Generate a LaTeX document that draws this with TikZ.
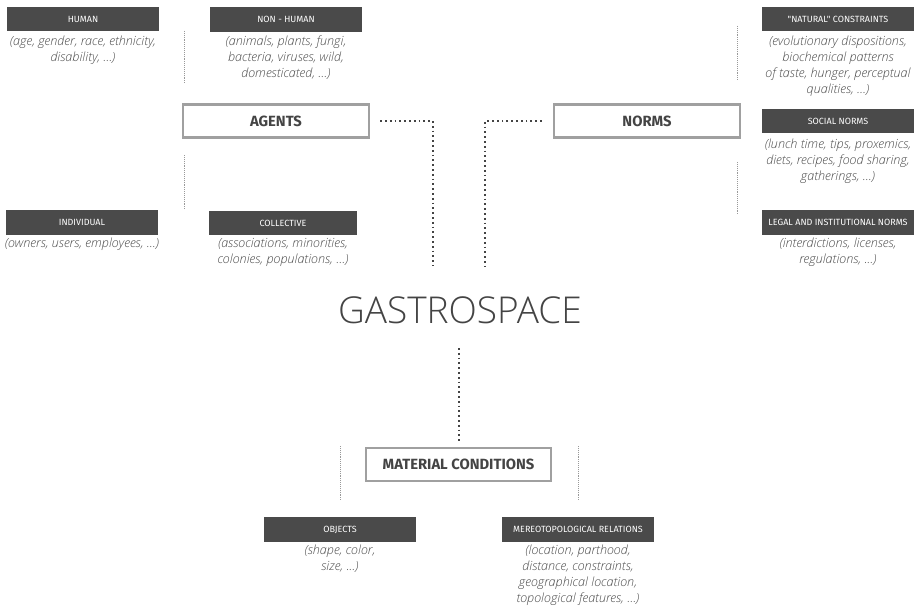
\documentclass[tikz,border=0pt]{standalone}
\usepackage{fontspec}
\setmainfont{Open Sans}
\newfontfamily\descfont{Open Sans Light}
\newfontfamily\labfont{Fira Sans}
\definecolor{darkbox}{HTML}{4A4A4A}
\definecolor{boxline}{HTML}{A0A0A0}
\definecolor{txt}{HTML}{444444}
\definecolor{desctxt}{HTML}{4A4A4A}
\begin{document}
\begin{tikzpicture}[x=1pt,y=-1pt,
  lab/.style={fill=darkbox, text=white, minimum width=152pt, minimum height=24.5pt, inner sep=0pt, font=\labfont\fontsize{9}{10}\selectfont},
  desc/.style={anchor=north, align=center, inner sep=0pt, text=desctxt, font=\descfont\itshape\fontsize{12.6}{16}\selectfont},
  main/.style={draw=boxline, line width=2.5pt, fill=white, minimum width=186pt, minimum height=33pt, inner sep=0pt, text=txt, font=\labfont\fontsize{14.8}{16}\selectfont\bfseries},
  thindot/.style={draw=gray!80, line width=0.8pt, dash pattern=on 0.8pt off 1.1pt},
  conn/.style={draw=txt, line width=1.8pt, dash pattern=on 1.8pt off 3pt}
]
\useasboundingbox (0,0) rectangle (916,610);
% left
\node[lab] (human) at (83,19) {HUMAN};
\node[desc] (humand) at (83,36) {(age, gender, race, ethnicity,\\disability, ...)};
\node[lab] (nonhuman) at (286,19.5) {NON - HUMAN};
\node[desc] (nonhumand) at (286,36) {(animals, plants, fungi,\\bacteria, viruses, wild,\\domesticated, ...)};
\node[main] (agents) at (276,121) {AGENTS};
\node[lab] (indiv) at (82,222.5) {INDIVIDUAL};
\node[desc] (indivd) at (82,238) {(owners, users, employees, ...)};
\node[lab, minimum width=148pt] (coll) at (283,223) {COLLECTIVE};
\node[desc] (colld) at (283,238) {(associations, minorities,\\colonies, populations, ...)};
\coordinate (l1a) at (184,31); \coordinate (l1b) at (184,84);
\coordinate (l2a) at (184,155); \coordinate (l2b) at (184,209);
\draw[thindot] (l1a) -- (l1b);
\draw[thindot] (l2a) -- (l2b);
% right
\node[lab] (natural) at (838,19) {"NATURAL" CONSTRAINTS};
\node[desc] (naturald) at (838,36) {(evolutionary dispositions,\\biochemical patterns\\of taste, hunger, perceptual\\qualities, ...)};
\node[main] (norms) at (647,121) {NORMS};
\node[lab] (social) at (838,121) {SOCIAL NORMS};
\node[desc] (sociald) at (838,139) {(lunch time, tips, proxemics,\\diets, recipes, food sharing,\\gatherings, ...)};
\node[lab] (legal) at (838,222.5) {LEGAL AND INSTITUTIONAL NORMS};
\node[desc] (legald) at (838,238) {(interdictions, licenses,\\regulations, ...)};
\coordinate (r1a) at (737,26); \coordinate (r1b) at (737,80);
\coordinate (r2a) at (737,162); \coordinate (r2b) at (737,215);
\draw[thindot] (r1a) -- (r1b);
\draw[thindot] (r2a) -- (r2b);
% center
\node[text=txt, font=\descfont\fontsize{37}{40}\selectfont] (gastro) at (460,310) {GASTROSPACE};
\coordinate (ga) at (433,266);
\coordinate (gb) at (485,266);
\coordinate (gc) at (459,442);
\draw[conn] ([xshift=10pt]agents.east) -| (ga);
\draw[conn] ([xshift=-11pt]norms.west) -| (gb);
\coordinate (gd) at (459,348);
\draw[conn] (gd) -- (gc);
% bottom
\node[main, minimum width=185pt] (mat) at (458.5,464.5) {MATERIAL CONDITIONS};
\node[lab] (obj) at (340,529.5) {OBJECTS};
\node[desc] (objd) at (340,545) {(shape, color,\\size, ...)};
\node[lab] (mereo) at (578,529.5) {MEREOTOPOLOGICAL RELATIONS};
\node[desc] (mereod) at (578,545) {(location, parthood,\\distance, constraints,\\geographical location,\\topological features, ...)};
\coordinate (b1a) at (340,446); \coordinate (b1b) at (340,500);
\coordinate (b2a) at (578,446); \coordinate (b2b) at (578,500);
\draw[thindot] (b1a) -- (b1b);
\draw[thindot] (b2a) -- (b2b);
\end{tikzpicture}
\end{document}
